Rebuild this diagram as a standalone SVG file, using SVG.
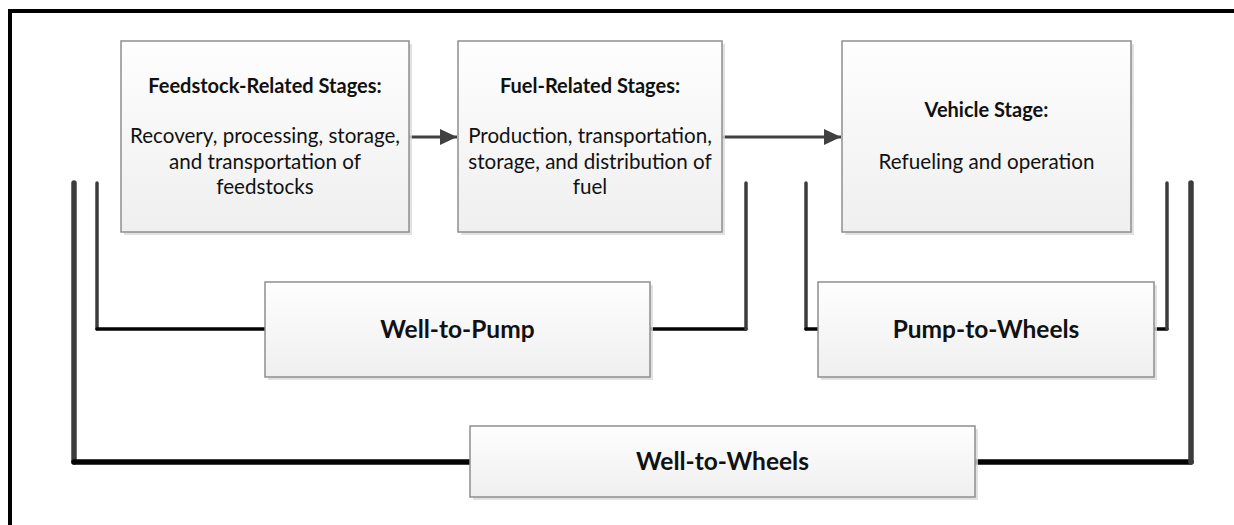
<svg xmlns="http://www.w3.org/2000/svg" width="1234" height="525" viewBox="0 0 1234 525">
<defs>
<linearGradient id="boxGrad" x1="0" y1="0" x2="0" y2="1">
<stop offset="0" stop-color="#fefefe"/>
<stop offset="1" stop-color="#efefef"/>
</linearGradient>
<marker id="arrow" markerUnits="userSpaceOnUse" markerWidth="18" markerHeight="18" viewBox="0 0 18 18" refX="17" refY="9" orient="auto">
<path d="M0,1 L17,9 L0,17 Z" fill="#404040"/>
</marker>
</defs>
<style>
.shadow{fill:#d9d9d9;opacity:0.8}
.box{fill:url(#boxGrad);stroke:#8e8e8e;stroke-width:1.5}
.t{font-family:Lato,"Liberation Sans",sans-serif;font-size:20.6px;fill:#111;text-anchor:middle}
.b{font-weight:bold;font-size:20px}
.lbl{font-family:Lato,"Liberation Sans",sans-serif;font-size:24.5px;font-weight:bold;fill:#111;text-anchor:middle}
.thin{fill:none;stroke-width:3.5;stroke-linecap:round;stroke-linejoin:round}
.thick{fill:none;stroke-width:5.5;stroke-linecap:round;stroke-linejoin:round}
.v{stroke:#3c3c3c}
.h{stroke:#050505}
.arr{fill:none;stroke:#404040;stroke-width:3}
</style>
<rect width="1234" height="525" fill="#ffffff"/>
<path d="M10,527 V11 H1236" fill="none" stroke="#000" stroke-width="4"/>

<g id="connectors">
<path class="thin v" d="M97,183 V329"/>
<path class="thin h" d="M97,329 H265"/>
<path class="thin h" d="M650,329 H746"/>
<path class="thin v" d="M746,329 V183"/>
<path class="thin v" d="M806,183 V329"/>
<path class="thin h" d="M806,329 H818"/>
<path class="thin h" d="M1154,329 H1167"/>
<path class="thin v" d="M1167,329 V183"/>
<path class="thick v" d="M74,183 V462"/>
<path class="thick h" d="M74,462 H470"/>
<path class="thick h" d="M975,462 H1191"/>
<path class="thick v" d="M1191,462 V183"/>
<path class="arr" d="M409,137 H457" marker-end="url(#arrow)"/>
<path class="arr" d="M722,137 H841" marker-end="url(#arrow)"/>
</g>

<g id="feedstock">
<rect class="shadow" x="124" y="44" width="288" height="191"/>
<rect class="box" x="121" y="41" width="288" height="191"/>
<text class="t b" x="265" y="93">Feedstock-Related Stages:</text>
<text class="t" x="265" y="143">Recovery, processing, storage,</text>
<text class="t" x="265" y="168.5">and transportation of</text>
<text class="t" x="265" y="194">feedstocks</text>
</g>

<g id="fuel">
<rect class="shadow" x="461" y="44" width="264" height="191"/>
<rect class="box" x="458" y="41" width="264" height="191"/>
<text class="t b" x="590" y="93">Fuel-Related Stages:</text>
<text class="t" x="590" y="143">Production, transportation,</text>
<text class="t" x="590" y="168.5">storage, and distribution of</text>
<text class="t" x="590" y="194">fuel</text>
</g>

<g id="vehicle">
<rect class="shadow" x="845" y="44" width="289" height="191"/>
<rect class="box" x="842" y="41" width="289" height="191"/>
<text class="t b" x="986.5" y="117">Vehicle Stage:</text>
<text class="t" x="986.5" y="168.5">Refueling and operation</text>
</g>

<g id="well-to-pump">
<rect class="shadow" x="268" y="285" width="385" height="95"/>
<rect class="box" x="265" y="282" width="385" height="95"/>
<text class="lbl" x="457.5" y="337.5">Well-to-Pump</text>
</g>

<g id="pump-to-wheels">
<rect class="shadow" x="821" y="285" width="336" height="95"/>
<rect class="box" x="818" y="282" width="336" height="95"/>
<text class="lbl" x="986" y="337.5">Pump-to-Wheels</text>
</g>

<g id="well-to-wheels">
<rect class="shadow" x="473" y="429" width="505" height="71"/>
<rect class="box" x="470" y="426" width="505" height="71"/>
<text class="lbl" x="722.5" y="470">Well-to-Wheels</text>
</g>
</svg>
